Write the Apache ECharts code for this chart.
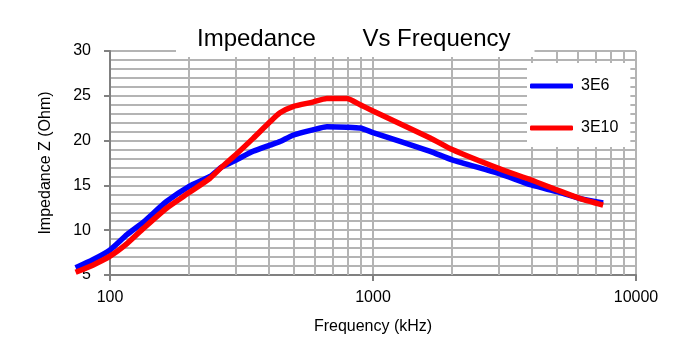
<!DOCTYPE html>
<html>
<head>
<meta charset="utf-8">
<script src="https://cdn.jsdelivr.net/npm/echarts@6/dist/echarts.min.js"></script>
<style>
  html, body { margin: 0; padding: 0; background: #fff; }
  #chart { width: 680px; height: 354px; }
</style>
</head>
<body>
<div id="chart"></div>
<script>
  // frequency (kHz)
  var freqs = [74, 86, 100, 116, 134, 164, 200, 240, 266, 300, 350, 406, 443, 496, 590, 668, 795, 894, 1000, 1650, 2000, 3000, 4000, 5000, 6100, 7500];
  // impedance Z (Ohm)
  var z3E6 = [5.8, 6.7, 7.8, 9.5, 10.9, 13.2, 14.9, 16.0, 17.05, 17.8, 18.8, 19.5, 19.9, 20.6, 21.2, 21.55, 21.5, 21.4, 20.9, 18.8, 17.85, 16.35, 15.05, 14.3, 13.55, 13.05];
  var z3E10 = [5.3, 6.1, 7.1, 8.5, 10.2, 12.45, 14.2, 15.8, 17.05, 18.4, 20.25, 22.1, 23.1, 23.8, 24.3, 24.7, 24.7, 24.0, 23.3, 20.3, 19.0, 16.9, 15.6, 14.5, 13.55, 12.8];
  // log minor grid lines
  var minorFreqs = [200, 300, 400, 500, 600, 700, 800, 900, 2000, 3000, 4000, 5000, 6000, 7000, 8000, 9000];

  var font = 'Liberation Sans, Arial, sans-serif';
  var gridColor = '#b4b4b4';

  // the curves start left of the 100 kHz axis, so they sit on a wider hidden
  // log axis with the same pixels per decade
  var plotRight = 44, plotLeft = 110;
  var decadePx = (680 - plotLeft - plotRight) / 2;
  var dataMin = 50;
  var dataLeft = 680 - plotRight - decadePx * Math.log10(10000 / dataMin);

  function pairs(ys) {
    return freqs.map(function (f, i) { return [f, ys[i]]; });
  }

  var myChart = echarts.init(document.getElementById('chart'));
  var option = {
    backgroundColor: '#ffffff',
    animation: false,
    title: {
      text: 'Impedance       Vs Frequency',
      left: 176,
      top: 0,
      z: 10,
      padding: [25, 24, 4, 21],
      backgroundColor: '#ffffff',
      textStyle: { fontFamily: font, fontSize: 24, fontWeight: 'normal', color: '#000', lineHeight: 28 }
    },
    legend: {
      orient: 'vertical',
      left: 527,
      top: 63,
      z: 10,
      padding: [15, 12, 11, 3],
      backgroundColor: '#ffffff',
      itemWidth: 43,
      itemHeight: 5,
      itemGap: 26,
      icon: 'roundRect',
      textStyle: { fontFamily: font, fontSize: 16, color: '#000', padding: [0, 0, 0, 3] },
      data: ['3E6', '3E10']
    },
    grid: [
      { left: plotLeft, right: plotRight, top: 51, bottom: 79 },
      { left: dataLeft, right: plotRight, top: 51, bottom: 79 }
    ],
    xAxis: [
      {
        type: 'log',
        logBase: 10,
        min: 100,
        max: 10000,
        gridIndex: 0,
        name: 'Frequency (kHz)',
        nameLocation: 'middle',
        nameGap: 44,
        nameTextStyle: { fontFamily: font, fontSize: 16, color: '#000' },
        axisLine: { show: true, lineStyle: { color: '#808080', width: 2 } },
        axisTick: { show: true, length: 6, lineStyle: { color: '#808080', width: 2 } },
        axisLabel: {
          margin: 15,
          fontFamily: font, fontSize: 16, color: '#000',
          formatter: function (v) { return String(Math.round(v)); }
        },
        splitLine: { show: true, lineStyle: { color: gridColor, width: 2 } },
        minorTick: { show: false },
        minorSplitLine: { show: false }
      },
      {
        type: 'log',
        logBase: 10,
        min: dataMin,
        max: 10000,
        gridIndex: 1,
        show: false
      }
    ],
    yAxis: [
      {
        type: 'value',
        min: 5,
        max: 30,
        interval: 5,
        gridIndex: 0,
        name: 'Impedance Z (Ohm)',
        nameLocation: 'middle',
        nameGap: 56,
        nameTextStyle: { fontFamily: font, fontSize: 16, color: '#000' },
        axisLine: { show: true, lineStyle: { color: '#808080', width: 2 } },
        axisTick: { show: true, length: 6, lineStyle: { color: '#808080', width: 2 } },
        axisLabel: { margin: 19, fontFamily: font, fontSize: 16, color: '#000' },
        splitLine: { show: true, lineStyle: { color: gridColor, width: 2 } },
        minorTick: { show: false, splitNumber: 5 },
        minorSplitLine: { show: true, lineStyle: { color: gridColor, width: 2 } }
      },
      {
        type: 'value',
        min: 5,
        max: 30,
        gridIndex: 1,
        show: false
      }
    ],
    series: [
      {
        // helper series carrying the log minor grid lines
        type: 'line',
        name: 'grid',
        data: [],
        xAxisIndex: 0,
        yAxisIndex: 0,
        z: 1,
        silent: true,
        markLine: {
          silent: true,
          z: 1,
          symbol: 'none',
          label: { show: false },
          lineStyle: { color: gridColor, width: 2, type: 'solid' },
          data: minorFreqs.map(function (f) { return { xAxis: f }; })
        }
      },
      {
        type: 'line',
        name: '3E6',
        data: pairs(z3E6),
        xAxisIndex: 1,
        yAxisIndex: 1,
        showSymbol: false,
        clip: false,
        z: 3,
        smooth: 0.2,
        color: '#0000ff',
        lineStyle: { color: '#0000ff', width: 5.5 }
      },
      {
        type: 'line',
        name: '3E10',
        data: pairs(z3E10),
        xAxisIndex: 1,
        yAxisIndex: 1,
        showSymbol: false,
        clip: false,
        z: 4,
        smooth: 0.2,
        color: '#ff0000',
        lineStyle: { color: '#ff0000', width: 5.5 }
      }
    ]
  };
  myChart.setOption(option);
</script>
</body>
</html>
